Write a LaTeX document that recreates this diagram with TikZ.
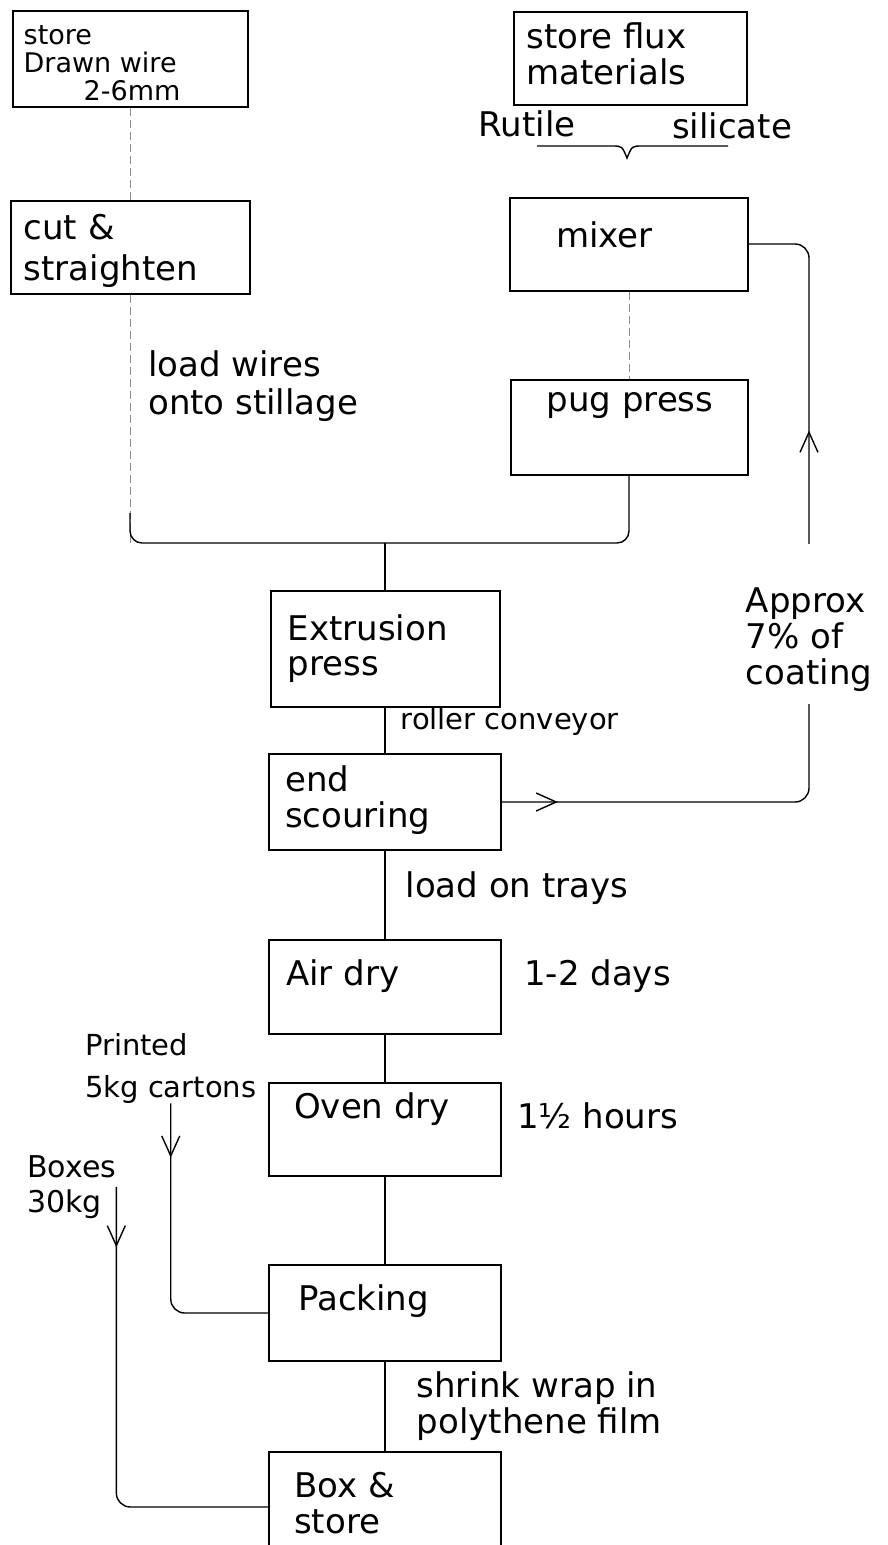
\documentclass[tikz,border=0pt]{standalone}
\usepackage{fontspec}
\setmainfont{DejaVu Sans}
\usetikzlibrary{positioning,arrows.meta,calc,decorations.markings}

\tikzset{
  proc/.style={draw,line width=2pt,minimum width=232pt,minimum height=94pt,inner sep=0pt},
  txt/.style={inner sep=0pt,align=left,font=\fontsize{34}{36}\selectfont},
  small/.style={txt,font=\fontsize{30}{35}\selectfont},
  flow/.style={draw,line width=1.4pt},
  faint/.style={draw=black!45,line width=0.8pt,dash pattern=on 8pt off 4pt},
  arrowat/.style={postaction={decorate},decoration={markings,
    mark=at position #1 with {\arrow{Straight Barb[length=20pt,width=18pt]}}}}
}

\begin{document}
\begin{tikzpicture}[x=1pt,y=-1pt]
  \useasboundingbox (0,0) rectangle (887,1545);
  \clip (0,0) rectangle (887,1545);

  % raw materials
  \node[proc,minimum width=235pt,minimum height=96pt] (wire) at (130,59) {};
  \node[txt,font=\fontsize{27}{28}\selectfont,below right=15pt and 12pt of wire.north west] (wiretxt)
    {store\\Drawn wire\\\hspace*{60pt}2-6mm};
  \node[proc,minimum width=233pt,minimum height=93pt] (flux) at (630,58) {};
  \node[txt,below right=12pt and 14pt of flux.north west] (fluxtxt) {store flux\\materials};
  \node[txt] (rutile) at (527,124) {Rutile};
  \node[txt] (silicate) at (732,126) {silicate};

  \node[proc,minimum width=239pt,minimum height=93pt] (cut) at (130,247) {};
  \node[txt,font=\fontsize{34}{41}\selectfont,below right=15pt and 14pt of cut.north west] (cuttxt)
    {cut \&\\straighten};
  \node[proc,minimum width=238pt,minimum height=93pt] (mixer) at (629,244) {};
  \node[txt,below right=25pt and 47pt of mixer.north west] (mixertxt) {mixer};
  \node[proc,minimum width=237pt,minimum height=95pt] (pug) at (629,427) {};
  \node[txt,below right=14pt and 37pt of pug.north west] (pugtxt) {pug press};
  \node[txt,font=\fontsize{34}{38}\selectfont,anchor=north west] (loadwires) at (148,350)
    {load wires\\onto stillage};

  % main line
  \node[proc,minimum width=229pt,minimum height=116pt] (extr) at (385,649) {};
  \node[txt,font=\fontsize{34}{35}\selectfont,below right=24pt and 18pt of extr.north west] (extrtxt)
    {Extrusion\\press};
  \node[proc,minimum height=96pt] (endsc) at (385,802) {};
  \node[txt,below right=12pt and 17pt of endsc.north west] (endsctxt) {end\\scouring};
  \node[proc] (airdry) at (385,987) {};
  \node[txt,below right=20pt and 18pt of airdry.north west] (airdrytxt) {Air dry};
  \node[txt,below right=20pt and 22pt of airdry.north east] (days) {1-2 days};
  \node[proc,minimum height=93pt] (oven) at (385,1129) {};
  \node[txt,below right=11pt and 26pt of oven.north west] (oventxt) {Oven dry};
  \node[txt,below right=21pt and 15pt of oven.north east] (hours) {1½ hours};
  \node[proc,minimum height=96pt] (packing) at (385,1313) {};
  \node[txt,below right=20pt and 30pt of packing.north west] (packtxt) {Packing};
  \node[proc,minimum height=110pt] (boxst) at (385,1507) {};
  \node[txt,below right=21pt and 26pt of boxst.north west] (boxsttxt) {Box \&\\store};

  % side inputs and return
  \node[small,font=\fontsize{29}{42}\selectfont,anchor=north west] (cartons) at (85,1033)
    {Printed\\5kg cartons};
  \node[small,anchor=north west] (boxes) at (27,1155) {Boxes\\30kg};
  \node[txt,inner ysep=12pt] (approx) at (809,640) {Approx\\7\% of\\coating};
  \coordinate (apptop) at ([yshift=32pt]approx.north);

  % brace under the flux materials
  \coordinate (brl) at (537,146);
  \coordinate (brr) at (728,146);
  \coordinate (brtip) at (627,158);
  \draw[flow] (brl) -- (612,146) .. controls (622,146) .. (brtip)
    .. controls (632,146) .. (642,146) -- (brr);

  % connectors
  \coordinate (jn) at (385,543);
  \draw[faint] (wire) -- (cut);
  \draw[faint] (mixer) -- (pug);
  \draw[faint] (cut) -- (cut.south |- jn);
  \draw[flow,rounded corners=12pt] (pug.south) |- (cut.south |- jn) -- ++(0,-30);
  \draw[flow] (jn) -- (extr);
  \draw[flow] (extr) -- node[small,font=\fontsize{29}{32}\selectfont,right=15pt,pos=0.3] (roller)
    {roller conveyor} (endsc);
  \draw[flow] (endsc) -- node[txt,right=20pt,pos=0.42] (trays) {load on trays} (airdry);
  \draw[flow] (airdry) -- (oven);
  \draw[flow] (oven) -- (packing);
  \draw[flow] (packing) -- node[txt,right=31pt] (shrink) {shrink wrap in\\polythene film} (boxst);

  \draw[flow,rounded corners=14pt,arrowat=0.14] (endsc.east) -| (approx.south);
  \draw[flow,rounded corners=14pt,arrowat=0.32] (apptop) |- (mixer.east);
  \draw[flow,rounded corners=14pt,arrowat=0.18] (cartons.south) |- (packing.west);
  \draw[flow,rounded corners=14pt,arrowat=0.13] (boxes.east) |- (boxst.west);
\end{tikzpicture}
\end{document}
